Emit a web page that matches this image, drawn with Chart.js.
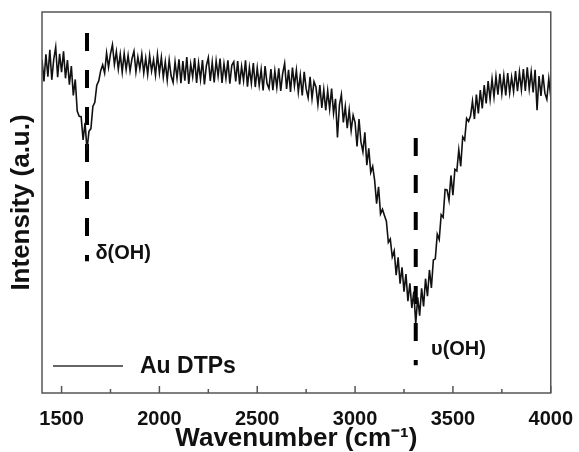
<!DOCTYPE html>
<html>
<head>
<meta charset="utf-8">
<script src="https://cdn.jsdelivr.net/npm/chart.js@4/dist/chart.umd.min.js"></script>
<style>
  body { margin: 0; background: #fff; }
  #wrap { width: 579px; height: 452px; }
</style>
</head>
<body>
<div id="wrap"><canvas id="ftir"></canvas></div>
<script>
// spectrum sampled every 10 cm-1 starting at 1400
const waveStart = 1400;
const waveStep = 10;
const intensity = [
  87.5, 81.8, 88.9, 83.0, 90.1, 82.2, 87.6, 90.8, 82.9, 89.0,
  84.2, 89.7, 82.6, 87.4, 80.9, 85.8, 78.1, 82.3, 74.0, 72.6,
  72.5, 66.4, 70.9, 63.8, 68.7, 69.4, 75.2, 76.3, 80.8, 81.9,
  84.6, 86.1, 84.0, 89.2, 85.5, 89.0, 91.4, 86.2, 89.6, 85.0,
  88.9, 84.2, 89.1, 84.9, 88.6, 84.5, 87.8, 89.7, 84.3, 88.2,
  85.1, 88.9, 84.0, 87.9, 83.6, 88.6, 84.5, 87.5, 83.4, 88.8,
  84.0, 88.1, 82.9, 86.9, 82.1, 87.4, 83.2, 81.5, 86.9, 82.6,
  87.6, 81.3, 87.1, 82.0, 88.2, 81.1, 86.3, 83.0, 87.9, 81.4,
  86.6, 82.3, 87.4, 81.0, 85.9, 88.0, 81.9, 86.8, 81.5, 87.2,
  83.2, 87.8, 81.4, 86.4, 82.6, 87.3, 81.2, 86.0, 86.9, 81.8,
  87.1, 81.0, 85.7, 82.0, 87.3, 80.4, 85.4, 81.3, 86.6, 80.3,
  85.3, 80.8, 84.9, 79.4, 85.8, 81.2, 79.9, 85.0, 79.5, 84.5,
  80.2, 85.2, 79.3, 83.9, 86.5, 79.8, 84.8, 79.0, 85.4, 80.6,
  84.7, 79.0, 83.4, 78.1, 84.3, 79.8, 77.5, 83.0, 77.3, 81.7,
  80.3, 75.7, 80.8, 74.8, 79.6, 74.2, 79.3, 74.5, 79.9, 73.4,
  77.2, 67.1, 75.6, 78.3, 71.0, 75.2, 69.5, 74.3, 68.9, 72.9,
  71.0, 64.7, 71.9, 65.9, 63.3, 68.4, 59.8, 64.2, 57.9, 59.5,
  55.8, 49.7, 54.1, 47.0, 48.2, 46.6, 45.1, 39.5, 40.4, 35.7,
  37.3, 30.9, 35.6, 28.7, 33.0, 26.6, 31.2, 24.1, 28.8, 22.3,
  26.6, 18.2, 25.1, 20.3, 27.5, 22.7, 30.0, 25.4, 32.3, 27.6,
  34.9, 35.2, 41.7, 40.3, 46.8, 46.1, 53.4, 53.3, 50.6, 57.1,
  51.9, 58.7, 58.3, 63.8, 59.5, 67.2, 66.4, 72.1, 71.3, 72.7,
  76.6, 71.9, 78.3, 73.4, 79.5, 74.7, 80.8, 76.0, 81.9, 77.1,
  82.4, 77.7, 83.1, 78.3, 83.8, 78.6, 83.3, 78.1, 84.0, 78.8,
  82.9, 79.1, 84.5, 79.2, 84.2, 79.6, 85.0, 79.3, 85.5, 79.8,
  84.3, 78.9, 84.8, 74.2, 83.2, 78.0, 83.6, 78.7, 77.1, 82.5,
  77.8
];

const xTickLabels = [1500, 2000, 2500, 3000, 3500, 4000];
const xMinorTicks = [1750, 2250, 2750, 3250, 3750];

// marked bands
const peakNames = ['δ(OH)', 'υ(OH)'];
const peakWave = [1630, 3310];
const peakLineTop = [94.5, 66.9];
const peakLineBottom = [34.6, 7.3];
const peakLabelX = [1673, 3388];
const peakLabelY = [36.7, 11.5];

const seriesName = 'Au DTPs';

const font = '"Liberation Sans", Arial, sans-serif';

const spectrum = intensity.map((v, i) => ({ x: waveStart + i * waveStep, y: v }));

const markLines = peakWave.map((w, i) => ({
  label: peakNames[i],
  data: [{ x: w, y: peakLineTop[i] }, { x: w, y: peakLineBottom[i] }],
  borderColor: '#000',
  borderWidth: 4,
  borderDash: [18, 19],
  pointRadius: 0
}));

const extras = {
  id: 'extras',
  afterDatasetsDraw(chart) {
    const { ctx, chartArea: a, scales: { x, y } } = chart;
    ctx.save();
    // frame
    ctx.strokeStyle = '#555';
    ctx.lineWidth = 1.5;
    ctx.strokeRect(a.left, a.top, a.right - a.left, a.bottom - a.top);
    // inward ticks on the bottom axis
    x.ticks.forEach(t => {
      const px = x.getPixelForValue(t.value);
      const len = xTickLabels.includes(t.value) ? 7 : 4;
      ctx.beginPath();
      ctx.moveTo(px, a.bottom);
      ctx.lineTo(px, a.bottom - len);
      ctx.stroke();
    });
    // band labels
    ctx.fillStyle = '#111';
    ctx.textBaseline = 'middle';
    ctx.textAlign = 'left';
    ctx.font = 'bold 20px ' + font;
    peakNames.forEach((txt, i) => {
      ctx.fillText(txt, x.getPixelForValue(peakLabelX[i]), y.getPixelForValue(peakLabelY[i]));
    });
    // legend inside the plot
    const ly = a.bottom - 27;
    ctx.strokeStyle = '#333';
    ctx.lineWidth = 1.4;
    ctx.beginPath();
    ctx.moveTo(a.left + 11, ly);
    ctx.lineTo(a.left + 81, ly);
    ctx.stroke();
    ctx.font = 'bold 23px ' + font;
    ctx.fillText(seriesName, a.left + 98, ly + 1);
    ctx.restore();
  }
};

new Chart(document.getElementById('ftir'), {
  type: 'line',
  data: {
    datasets: [{
      label: seriesName,
      data: spectrum,
      borderColor: '#111',
      borderWidth: 1.6,
      pointRadius: 0,
      tension: 0
    }, ...markLines]
  },
  options: {
    responsive: true,
    maintainAspectRatio: false,
    animation: false,
    layout: { padding: { top: 12, right: 26, left: 0, bottom: 0 } },
    plugins: {
      legend: { display: false },
      tooltip: { enabled: false }
    },
    scales: {
      x: {
        type: 'linear',
        min: 1400,
        max: 4000,
        afterFit: s => { s.height = 59; },
        afterBuildTicks: s => {
          s.ticks = [...xTickLabels, ...xMinorTicks].sort((p, q) => p - q).map(v => ({ value: v }));
        },
        grid: { display: false },
        border: { display: false },
        ticks: {
          autoSkip: false,
          maxRotation: 0,
          padding: 6,
          color: '#111',
          font: { family: font, size: 20, weight: 'bold' },
          callback: v => xTickLabels.includes(v) ? String(v) : ''
        },
        title: {
          display: true,
          text: 'Wavenumber (cm⁻¹)',
          color: '#111',
          padding: { top: 0, bottom: 0 },
          font: { family: font, size: 26, weight: 'bold', lineHeight: 1 }
        }
      },
      y: {
        min: 0,
        max: 100,
        afterFit: s => { s.width = 42; },
        grid: { display: false },
        border: { display: false },
        ticks: { display: false },
        title: {
          display: true,
          text: 'Intensity (a.u.)',
          color: '#111',
          padding: { top: 9, bottom: 0 },
          font: { family: font, size: 26, weight: 'bold', lineHeight: 1 }
        }
      }
    }
  },
  plugins: [extras]
});
</script>
</body>
</html>
